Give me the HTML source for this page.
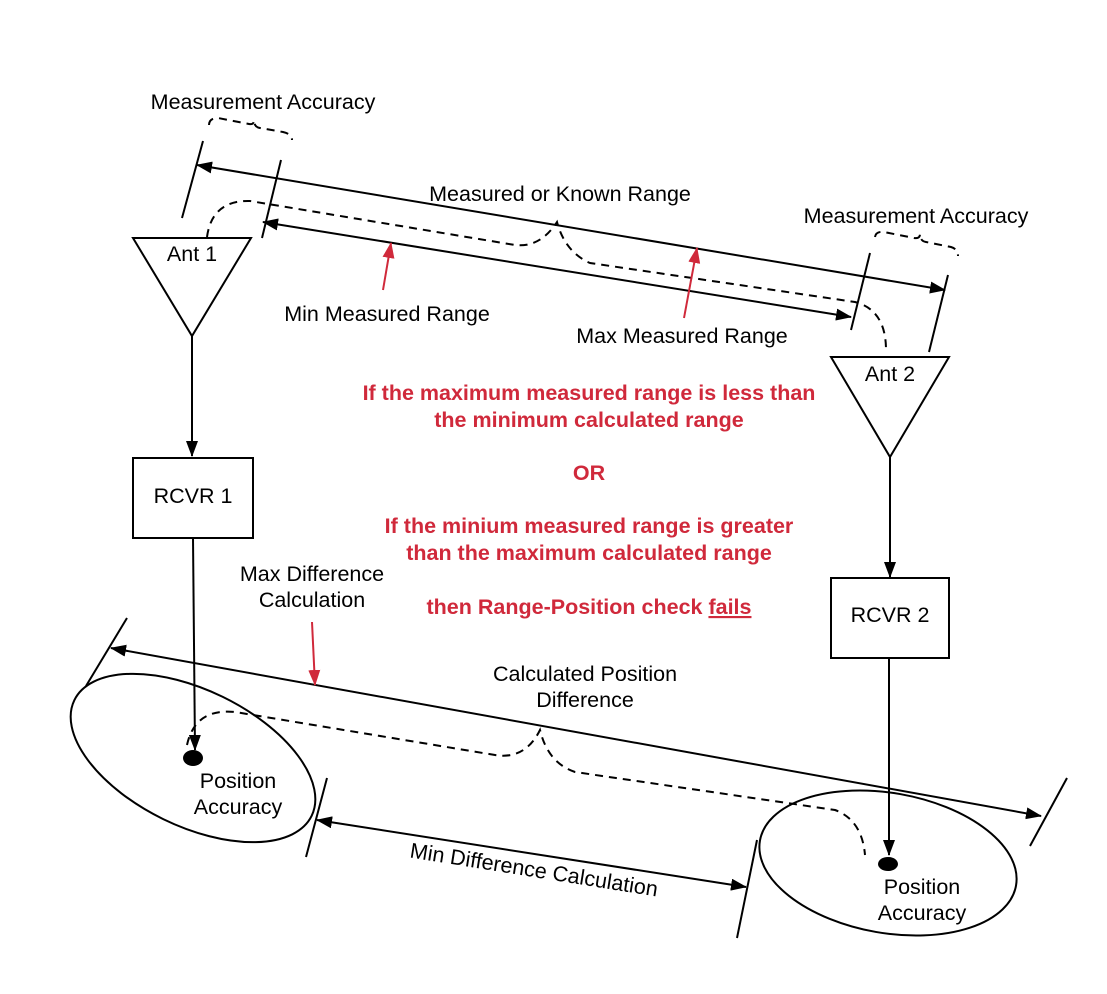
<!DOCTYPE html>
<html><head><meta charset="utf-8"><style>
html,body{margin:0;padding:0;background:#fff;}
svg{display:block;font-family:"Liberation Sans",sans-serif;}
</style></head><body>
<svg width="1107" height="994" viewBox="0 0 1107 994" xmlns="http://www.w3.org/2000/svg">
<defs>
<marker id="a" markerWidth="16" markerHeight="12" refX="15" refY="6" orient="auto" markerUnits="userSpaceOnUse"><path d="M0,0 L16,6 L0,12 z" fill="#000"/></marker>
<marker id="s" markerWidth="16" markerHeight="12" refX="1" refY="6" orient="auto" markerUnits="userSpaceOnUse"><path d="M16,0 L0,6 L16,12 z" fill="#000"/></marker>
<marker id="r" markerWidth="16" markerHeight="12" refX="15" refY="6" orient="auto" markerUnits="userSpaceOnUse"><path d="M0,0 L16,6 L0,12 z" fill="#d0293b"/></marker>
</defs>
<g stroke="#000" stroke-width="2" fill="none">
<line x1="182" y1="218" x2="203" y2="141"/>
<line x1="262" y1="238" x2="281" y2="160"/>
<line x1="851" y1="330" x2="870" y2="253"/>
<line x1="929" y1="352" x2="948" y2="275"/>
<line x1="86" y1="686" x2="127" y2="618"/>
<line x1="1030" y1="846" x2="1067" y2="778"/>
<line x1="306" y1="857" x2="327" y2="778"/>
<line x1="737" y1="938" x2="757" y2="840"/>
<line x1="197" y1="165" x2="945" y2="290" marker-start="url(#s)" marker-end="url(#a)"/>
<line x1="263" y1="222" x2="851" y2="317" marker-start="url(#s)" marker-end="url(#a)"/>
<line x1="111" y1="648" x2="1041" y2="816" marker-start="url(#s)" marker-end="url(#a)"/>
<line x1="317" y1="820" x2="746" y2="887" marker-start="url(#s)" marker-end="url(#a)"/>
<g stroke-dasharray="8,6">
<path d="M209,125 Q209,118 218,118 L249,124 Q254,125 254,120 Q254,127 260,128 L283,132 Q292,134 292,140"/>
<path d="M875,237 Q876,231 884,232 L914,238 Q920,239 920,234 Q920,241 926,242 L951,247 Q958,249 958,256"/>
<path d="M207,237 Q212,200 250,201 L515,245 Q540,248 557,222 Q565,252 590,263 L855,302 Q886,310 886,350"/>
<path d="M187,745 Q195,708 235,712 L495,755 Q525,760 540,730 Q548,763 575,772 L835,810 Q862,820 865,855"/>
</g>
<line x1="383" y1="290" x2="391" y2="243" stroke="#d0293b" marker-end="url(#r)"/>
<line x1="684" y1="318" x2="697" y2="248" stroke="#d0293b" marker-end="url(#r)"/>
<line x1="312" y1="622" x2="315" y2="685" stroke="#d0293b" marker-end="url(#r)"/>
<path d="M133,238 L251,238 L192,336 Z" fill="#fff"/>
<path d="M831,357 L949,357 L890,457 Z" fill="#fff"/>
<line x1="192" y1="336" x2="192" y2="456" marker-end="url(#a)"/>
<line x1="890" y1="457" x2="890" y2="577" marker-end="url(#a)"/>
<rect x="133" y="458" width="120" height="80" fill="#fff"/>
<rect x="831" y="578" width="118" height="80" fill="#fff"/>
<line x1="193" y1="538" x2="195" y2="750" marker-end="url(#a)"/>
<line x1="889" y1="658" x2="889" y2="855" marker-end="url(#a)"/>
<ellipse cx="193" cy="758" rx="132" ry="68" transform="rotate(26 193 758)"/>
<ellipse cx="888" cy="863" rx="130" ry="70" transform="rotate(10 888 863)"/>
</g>
<ellipse cx="193" cy="758" rx="10" ry="8" fill="#000"/>
<ellipse cx="888" cy="864" rx="10" ry="7" fill="#000"/>
<g font-size="21.5" fill="#000" text-anchor="middle">
<text x="263" y="109">Measurement Accuracy</text>
<text x="916" y="223">Measurement Accuracy</text>
<text x="560" y="201">Measured or Known Range</text>
<text x="387" y="321">Min Measured Range</text>
<text x="682" y="343">Max Measured Range</text>
<text x="192" y="261">Ant 1</text>
<text x="890" y="381">Ant 2</text>
<text x="193" y="503">RCVR 1</text>
<text x="890" y="622">RCVR 2</text>
<text x="312" y="581">Max Difference</text>
<text x="312" y="607">Calculation</text>
<text x="585" y="681">Calculated Position</text>
<text x="585" y="707">Difference</text>
<text x="238" y="788">Position</text>
<text x="238" y="814">Accuracy</text>
<text x="922" y="894">Position</text>
<text x="922" y="920">Accuracy</text>
<text x="534" y="877" transform="rotate(9 534 870)">Min Difference Calculation</text>
</g>
<g font-size="21.5" font-weight="bold" fill="#d0293b" text-anchor="middle">
<text x="589" y="400">If the maximum measured range is less than</text>
<text x="589" y="427">the minimum calculated range</text>
<text x="589" y="480">OR</text>
<text x="589" y="533">If the minium measured range is greater</text>
<text x="589" y="560">than the maximum calculated range</text>
<text x="589" y="614">then Range-Position check <tspan text-decoration="underline">fails</tspan></text>
</g>
</svg>
</body></html>
